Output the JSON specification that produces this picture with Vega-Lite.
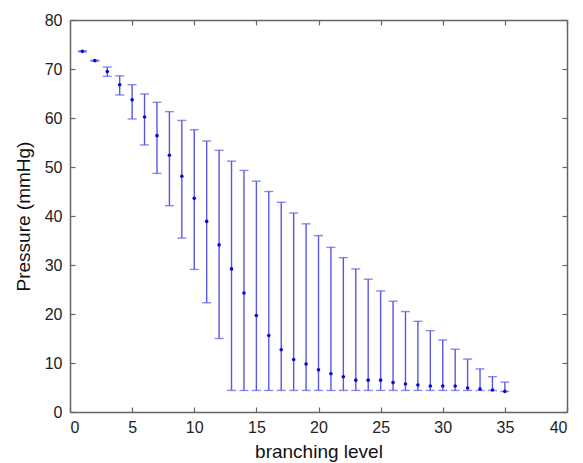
{
  "$schema": "https://vega.github.io/schema/vega-lite/v6.json",
  "width": 497,
  "height": 392,
  "autosize": {"type": "none"},
  "padding": {"left": 70, "top": 20, "right": 16, "bottom": 51},
  "background": "white",
  "config": {
    "view": {"stroke": null},
    "axis": {
      "grid": false,
      "domainColor": "#666666",
      "domainWidth": 1.5,
      "tickColor": "#666666",
      "tickSize": -5,
      "tickWidth": 1.2,
      "labelFont": "Liberation Sans",
      "labelFontSize": 16,
      "labelColor": "#222222",
      "titleFont": "Liberation Sans",
      "titleFontSize": 19,
      "titleFontWeight": "normal",
      "titleColor": "#111111"
    }
  },
  "data": {
    "values": [
      {"level": 1, "mean": 73.6, "lo": 73.5, "hi": 73.7},
      {"level": 2, "mean": 71.7, "lo": 71.6, "hi": 71.8},
      {"level": 3, "mean": 69.5, "lo": 68.5, "hi": 70.4},
      {"level": 4, "mean": 66.8, "lo": 64.7, "hi": 68.6},
      {"level": 5, "mean": 63.7, "lo": 59.8, "hi": 66.8},
      {"level": 6, "mean": 60.2, "lo": 54.5, "hi": 64.9},
      {"level": 7, "mean": 56.4, "lo": 48.7, "hi": 63.2},
      {"level": 8, "mean": 52.4, "lo": 42.1, "hi": 61.3},
      {"level": 9, "mean": 48.1, "lo": 35.5, "hi": 59.5},
      {"level": 10, "mean": 43.6, "lo": 29.1, "hi": 57.6},
      {"level": 11, "mean": 38.9, "lo": 22.3, "hi": 55.3},
      {"level": 12, "mean": 34.1, "lo": 15.0, "hi": 53.4},
      {"level": 13, "mean": 29.2, "lo": 4.4, "hi": 51.2},
      {"level": 14, "mean": 24.3, "lo": 4.4, "hi": 49.3},
      {"level": 15, "mean": 19.7, "lo": 4.4, "hi": 47.1},
      {"level": 16, "mean": 15.6, "lo": 4.4, "hi": 45.0},
      {"level": 17, "mean": 12.7, "lo": 4.4, "hi": 42.8},
      {"level": 18, "mean": 10.7, "lo": 4.4, "hi": 40.6},
      {"level": 19, "mean": 9.8, "lo": 4.4, "hi": 38.4},
      {"level": 20, "mean": 8.6, "lo": 4.4, "hi": 36.0},
      {"level": 21, "mean": 7.8, "lo": 4.4, "hi": 33.6},
      {"level": 22, "mean": 7.2, "lo": 4.4, "hi": 31.5},
      {"level": 23, "mean": 6.5, "lo": 4.4, "hi": 29.2},
      {"level": 24, "mean": 6.5, "lo": 4.4, "hi": 27.1},
      {"level": 25, "mean": 6.5, "lo": 4.4, "hi": 24.7},
      {"level": 26, "mean": 6.0, "lo": 4.4, "hi": 22.6},
      {"level": 27, "mean": 5.7, "lo": 4.4, "hi": 20.5},
      {"level": 28, "mean": 5.5, "lo": 4.4, "hi": 18.5},
      {"level": 29, "mean": 5.3, "lo": 4.4, "hi": 16.6},
      {"level": 30, "mean": 5.3, "lo": 4.4, "hi": 14.7},
      {"level": 31, "mean": 5.3, "lo": 4.4, "hi": 12.8},
      {"level": 32, "mean": 4.9, "lo": 4.4, "hi": 10.8},
      {"level": 33, "mean": 4.7, "lo": 4.4, "hi": 8.8},
      {"level": 34, "mean": 4.5, "lo": 4.4, "hi": 7.2},
      {"level": 35, "mean": 4.2, "lo": 4.2, "hi": 6.1}
    ]
  },
  "resolve": {"axis": {"x": "independent", "y": "independent"}},
  "layer": [
    {
      "mark": {"type": "rule", "color": "#5858e2", "strokeWidth": 1.4},
      "encoding": {
        "x": {"field": "level", "type": "quantitative", "scale": {"domain": [0, 40]},
              "axis": {"orient": "bottom", "values": [0,5,10,15,20,25,30,35,40], "title": "branching level", "labelPadding": 12, "titlePadding": 7}},
        "y": {"field": "lo", "type": "quantitative", "scale": {"domain": [0, 80]},
              "axis": {"orient": "left", "values": [0,10,20,30,40,50,60,70,80], "title": "Pressure (mmHg)", "labelPadding": 13, "titlePadding": 11}},
        "y2": {"field": "hi"}
      }
    },
    {
      "mark": {"type": "tick", "orient": "horizontal", "color": "#5858e2", "size": 9, "thickness": 1.4},
      "encoding": {
        "x": {"field": "level", "type": "quantitative", "scale": {"domain": [0, 40]}, "axis": null},
        "y": {"field": "lo", "type": "quantitative", "scale": {"domain": [0, 80]}, "axis": null}
      }
    },
    {
      "mark": {"type": "tick", "orient": "horizontal", "color": "#5858e2", "size": 9, "thickness": 1.4},
      "encoding": {
        "x": {"field": "level", "type": "quantitative", "scale": {"domain": [0, 40]}, "axis": null},
        "y": {"field": "hi", "type": "quantitative", "scale": {"domain": [0, 80]}, "axis": null}
      }
    },
    {
      "mark": {"type": "circle", "color": "#0a0ad0", "size": 13, "opacity": 1},
      "encoding": {
        "x": {"field": "level", "type": "quantitative", "scale": {"domain": [0, 40]},
              "axis": {"orient": "top", "values": [0,5,10,15,20,25,30,35,40], "labels": false, "title": null}},
        "y": {"field": "mean", "type": "quantitative", "scale": {"domain": [0, 80]},
              "axis": {"orient": "right", "values": [0,10,20,30,40,50,60,70,80], "labels": false, "title": null}}
      }
    }
  ]
}
